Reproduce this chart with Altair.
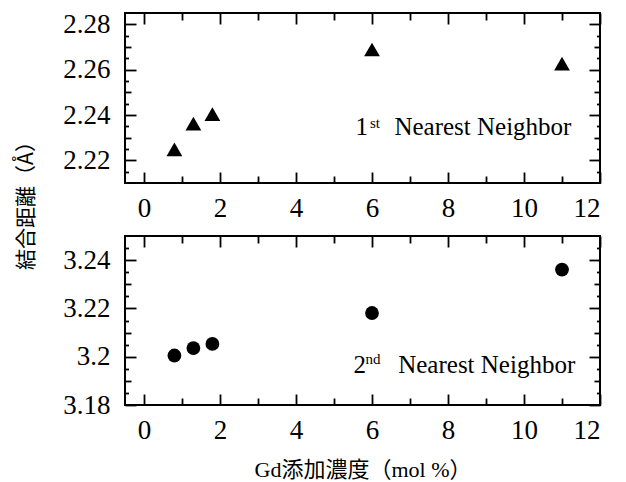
import altair as alt
import pandas as pd

# ---- data ----
gd_conc = [0.8, 1.3, 1.8, 6, 11]
first_nn = [2.2248, 2.2362, 2.2404, 2.2689, 2.2627]
second_nn = [3.2005, 3.2036, 3.2053, 3.2181, 3.2361]

x_major = [0, 2, 4, 6, 8, 10, 12]
x_minor = [1, 3, 5, 7, 9, 11]

y1_domain = [2.21, 2.285]
y1_major = [2.22, 2.24, 2.26, 2.28]
y1_medium = [2.23, 2.25, 2.27]
y1_small = [2.215, 2.225, 2.235, 2.245, 2.255, 2.265, 2.275]

y2_domain = [3.18, 3.25]
y2_major = [3.18, 3.2, 3.22, 3.24]
y2_medium = [3.19, 3.21, 3.23]
y2_small = [3.185, 3.195, 3.205, 3.215, 3.225, 3.235, 3.245]

x_title = "Gd添加濃度（mol %）"
y_title = "結合距離（Å）"

SERIF = "Liberation Serif"
W, H1, H2 = 475, 170, 169


def panel(values, shape, size, ydom, ymaj, ymed, ysmall, height, ann,
          show_ytitle=False, show_xtitle=False):
    df = pd.DataFrame({"x": gd_conc, "y": values})
    xs = alt.Scale(domain=[-0.5, 12], nice=False, zero=False)
    ys = alt.Scale(domain=ydom, nice=False, zero=False)

    def xaxis(orient, vals, tsize, labels):
        kw = dict(orient=orient, values=vals, tickSize=tsize, offset=-tsize,
                  domain=False, grid=False, labels=labels, format="d",
                  labelPadding=12, title=None)
        if labels and show_xtitle:
            kw.update(title=x_title, titleY=75, titleBaseline="middle",
                      titleFont="Liberation Serif, Noto Sans CJK JP",
                      titleFontSize=22, titleFontWeight="normal",
                      titleColor="black")
        return alt.Axis(**kw)

    def yaxis(orient, vals, tsize, labels):
        kw = dict(orient=orient, values=vals, tickSize=tsize, offset=-tsize,
                  domain=False, grid=False, labels=labels, format=".2~f",
                  labelPadding=15, title=None)
        if labels and show_ytitle:
            kw.update(title=y_title, titleX=-110, titleY=187, titleAngle=270,
                      titleBaseline="middle", titleAlign="center",
                      titleFont="Noto Sans CJK JP", titleFontSize=21,
                      titleFontWeight="normal", titleColor="black")
        return alt.Axis(**kw)

    pts = alt.Chart(df).mark_point(shape=shape, filled=True, size=size,
                                   color="black", opacity=1).encode(
        x=alt.X("x:Q", scale=xs, axis=xaxis("bottom", x_major, 11, True)),
        y=alt.Y("y:Q", scale=ys, axis=yaxis("left", ymaj, 11, True)),
    )

    def ghost(xax, yax):
        return alt.Chart(df).mark_point(opacity=0).encode(
            x=alt.X("x:Q", scale=xs, axis=xax),
            y=alt.Y("y:Q", scale=ys, axis=yax),
        )

    layers = [
        pts,
        ghost(xaxis("top", x_major, 11, False), yaxis("right", ymaj, 11, False)),
        ghost(xaxis("bottom", x_minor, 7, False), yaxis("left", ymed, 6, False)),
        ghost(xaxis("top", x_minor, 7, False), yaxis("right", ymed, 6, False)),
        ghost(None, yaxis("left", ysmall, 3.5, False)),
        ghost(None, yaxis("right", ysmall, 3.5, False)),
    ]

    for (txt, tx, ty, fs) in ann:
        layers.append(
            alt.Chart(alt.Data(values=[{}])).mark_text(
                text=txt, font=SERIF, fontSize=fs, align="left",
                baseline="alphabetic", color="black").encode(
                x=alt.X(datum=tx, scale=xs, axis=None),
                y=alt.Y(datum=ty, scale=ys, axis=None),
            )
        )

    return alt.layer(*layers).resolve_axis(
        x="independent", y="independent").properties(width=W, height=height)


top = panel(first_nn, "triangle-up", 250, y1_domain, y1_major, y1_medium,
            y1_small, H1,
            [("1", 5.566, 2.231, 25), ("st", 5.947, 2.2344, 15),
             ("Nearest Neighbor", 6.59, 2.231, 25)],
            show_ytitle=True)
bottom = panel(second_nn, "circle", 190, y2_domain, y2_major, y2_medium,
               y2_small, H2,
               [("2", 5.51, 3.1932, 25), ("nd", 5.83, 3.197, 15),
                ("Nearest Neighbor", 6.69, 3.1932, 25)],
               show_xtitle=True)

chart = alt.vconcat(top, bottom, spacing=53, bounds="flush").properties(
    padding={"left": 6, "top": 1, "right": 5, "bottom": 2}
).configure_view(stroke="black", strokeWidth=2).configure_axis(
    labelFont=SERIF, labelFontSize=27, labelColor="black",
    tickColor="black", tickWidth=1.8,
)

chart.save("out.html", embed_options={"renderer": "svg", "actions": False})
